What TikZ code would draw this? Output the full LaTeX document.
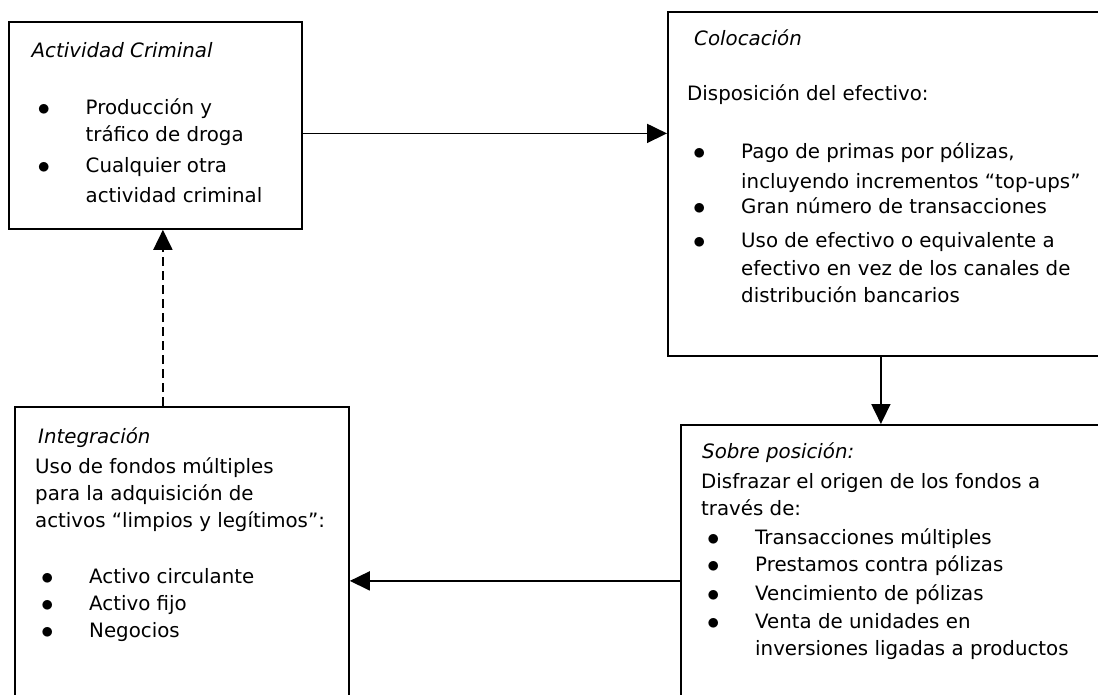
\documentclass[tikz,border=0pt]{standalone}
\usepackage{fontspec}
\setmainfont{DejaVu Sans}
\usetikzlibrary{positioning,arrows.meta}
\newcommand{\bul}{\hspace*{6pt}\makebox[48pt][l]{\raisebox{-1.3pt}{\fontsize{25}{27}\selectfont$\bullet$}}}
\newcommand{\cont}{\hspace*{54pt}}

\begin{document}
\begin{tikzpicture}[x=1pt, y=-1pt,
    box/.style={rectangle, draw, line width=1.8pt, anchor=north west, inner sep=0pt},
    txt/.style={inner sep=0pt, align=left, font=\fontsize{19.8}{27}\selectfont},
    arrow/.style={-{Triangle[length=20pt, width=19pt]}, line width=1.8pt},
    dasharrow/.style={arrow, dash pattern=on 9pt off 5pt}
]
\useasboundingbox (0,0) rectangle (1098,694);
\clip (0,0) rectangle (1098,694);
\node[box, minimum width=293pt, minimum height=207pt] (crim) at (8,21) {};
\node[box, minimum width=453pt, minimum height=344pt] (coloc) at (667,11) {};
\node[box, minimum width=334pt, minimum height=314pt] (integ) at (14,406) {};
\node[box, minimum width=440pt, minimum height=296pt] (sobre) at (680,424) {};
\node[txt, below right=17pt and 23.5pt of crim.north west] (crimtxt)
    {\strut\textit{Actividad Criminal}\\[30pt]
     \bul Producción y\\
     \cont tráfico de droga\\[4pt]
     \bul Cualquier otra\\[3pt]
     \cont actividad criminal};
\node[txt, below right=15pt and 20pt of coloc.north west] (coloctxt)
    {\hspace*{7pt}\strut\textit{Colocación}\\[28pt]
     Disposición del efectivo:\\[31pt]
     \bul Pago de primas por pólizas,\\[3pt]
     \cont incluyendo incrementos “top-ups”\\[-2pt]
     \bul Gran número de transacciones\\[7pt]
     \bul Uso de efectivo o equivalente a\\[1pt]
     \cont efectivo en vez de los canales de\\
     \cont distribución bancarios};
\node[txt, below right=18pt and 21pt of integ.north west] (integtxt)
    {\hspace*{3pt}\strut\textit{Integración}\\[3pt]
     Uso de fondos múltiples\\
     para la adquisición de\\
     activos “limpios y legítimos”:\\[29pt]
     \bul Activo circulante\\
     \bul Activo fijo\\
     \bul Negocios};
\node[txt, below right=15pt and 21pt of sobre.north west] (sobretxt)
    {\hspace*{1pt}\strut\textit{Sobre posición:}\\[3pt]
     Disfrazar el origen de los fondos a\\
     través de:\\[2pt]
     \bul Transacciones múltiples\\
     \bul Prestamos contra pólizas\\[2pt]
     \bul Vencimiento de pólizas\\[1pt]
     \bul Venta de unidades en\\
     \cont inversiones ligadas a productos};
\draw[arrow] ([yshift=-8pt]crim.east) coordinate (a1) -- (a1 -| coloc.west);
\draw[arrow] ([xshift=-13.5pt]coloc.south) coordinate (a2) -- (a2 |- sobre.north);
\draw[arrow] ([yshift=-8pt]sobre.west) coordinate (a3) -- (a3 -| integ.east);
\draw[dasharrow] ([xshift=-19pt]integ.north) coordinate (a4) -- (a4 |- crim.south);
\end{tikzpicture}
\end{document}
